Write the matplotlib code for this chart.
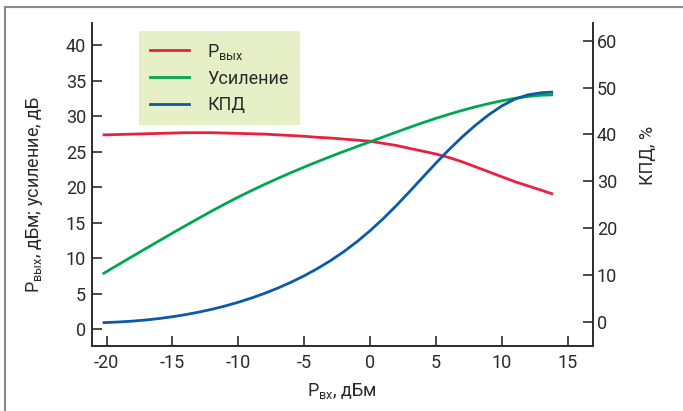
import matplotlib as mpl
mpl.use('Agg')

import matplotlib.pyplot as plt
from matplotlib.lines import Line2D

plt.rcParams['font.family'] = ['Roboto', 'DejaVu Sans']
plt.rcParams['mathtext.fontset'] = 'custom'
plt.rcParams['mathtext.rm'] = 'Roboto'
plt.rcParams['font.size'] = 13

# input power, dBm
p_in = [-20.3, -20, -19, -18, -17, -16, -15, -14, -13, -12, -11, -10, -9, -8, -7, -6,
        -5, -4, -3, -2, -1, 0, 1, 2, 3, 4, 5, 6, 7, 8, 9, 10, 11, 12, 13, 13.9]
# red curve (left axis)
p_out = [27.4, 27.4, 27.45, 27.5, 27.55, 27.6, 27.65, 27.7, 27.7, 27.7, 27.65, 27.6,
         27.55, 27.5, 27.4, 27.3, 27.2, 27.05, 26.95, 26.8, 26.65, 26.5, 26.2, 25.9,
         25.5, 25.1, 24.7, 24.2, 23.6, 22.9, 22.2, 21.5, 20.8, 20.2, 19.6, 19.05]
# green curve (left axis)
gain = [7.8, 8.13, 9.23, 10.32, 11.4, 12.48, 13.55, 14.61, 15.65, 16.68, 17.67, 18.63,
        19.54, 20.42, 21.26, 22.07, 22.85, 23.61, 24.34, 25.05, 25.74, 26.42, 27.1,
        27.78, 28.45, 29.1, 29.72, 30.3, 30.84, 31.34, 31.79, 32.19, 32.54, 32.81,
        32.98, 33.04]
# blue curve (right axis), %
eff = [-0.15, -0.12, 0.01, 0.19, 0.43, 0.74, 1.12, 1.57, 2.1, 2.71, 3.41, 4.21, 5.11,
       6.11, 7.23, 8.47, 9.85, 11.38, 13.08, 14.98, 17.1, 19.45, 22.03, 24.83, 27.8,
       30.85, 33.87, 36.77, 39.47, 41.95, 44.17, 46.07, 47.55, 48.45, 48.9, 49.05]

xticks = [-20, -15, -10, -5, 0, 5, 10, 15]
yticks_left = [0, 5, 10, 15, 20, 25, 30, 35, 40]
yticks_right = [0, 10, 20, 30, 40, 50, 60]

c_red = '#e8213f'
c_green = '#00a651'
c_blue = '#0a5aa8'
c_axis = '#2b2b2b'
c_text = '#2a2a2a'

fig = plt.figure(figsize=(6.83, 4.11), dpi=100)

# outer frame (only top and left edges visible)
fig.add_artist(Line2D([5 / 683, 1.0], [1 - 7 / 411, 1 - 7 / 411], color='#8a8a8a', lw=1.5))
fig.add_artist(Line2D([5 / 683, 5 / 683], [0, 1 - 7 / 411], color='#8a8a8a', lw=1.5))

ax1 = fig.add_axes([0.1343, 0.1582, 0.7335, 0.7866])
ax2 = ax1.twinx()

ax1.plot(p_in, p_out, color=c_red, lw=2.0, solid_capstyle='butt')
ax1.plot(p_in, gain, color=c_green, lw=2.0, solid_capstyle='butt')
ax2.plot(p_in, eff, color=c_blue, lw=2.0, solid_capstyle='butt')

ax1.set_xlim(-21.13, 16.91)
ax1.set_ylim(-2.35, 43.2)
ax2.set_ylim(-5.12, 63.84)

ax1.set_xticks(xticks)
ax1.set_xticklabels([str(t) for t in xticks])
ax1.set_yticks(yticks_left)
ax2.set_yticks(yticks_right)

for ax in (ax1, ax2):
    ax.spines['top'].set_visible(False)
    for s in ('left', 'right', 'bottom'):
        ax.spines[s].set_color(c_axis)
        ax.spines[s].set_linewidth(1.2)
    ax.tick_params(direction='in', length=7, width=1.2, color=c_axis,
                   labelcolor=c_text, labelsize=13)
ax1.tick_params(axis='y', pad=4)
ax1.tick_params(axis='x', pad=6)
ax2.tick_params(axis='y', pad=3)

ax1.set_xlabel(r'P$_{\mathregular{вх}}$, дБм', fontsize=13, color=c_text, labelpad=6)
ax1.set_ylabel(r'P$_{\mathregular{вых}}$, дБм; усиление, дБ', fontsize=13, color=c_text)
ax1.yaxis.set_label_coords(-0.093, 0.47)
ax2.set_ylabel('КПД, %', fontsize=13, color=c_text)
ax2.yaxis.set_label_coords(1.092, 0.59)

# legend
handles = [Line2D([], [], color=c_red, lw=2.0),
           Line2D([], [], color=c_green, lw=2.0),
           Line2D([], [], color=c_blue, lw=2.0)]
labels = [r'P$_{\mathregular{вых}}$', 'Усиление', 'КПД']
leg = ax1.legend(handles, labels, loc='upper left', bbox_to_anchor=(0.094, 0.975),
                 frameon=True, fancybox=False, framealpha=1.0, edgecolor='none',
                 facecolor='#e6efc5', fontsize=13, handlelength=2.2,
                 handletextpad=1.0, labelspacing=0.45, borderpad=0.6,
                 borderaxespad=0.0)
for t in leg.get_texts():
    t.set_color(c_text)
leg.set_zorder(5)

fig.savefig('out.png', dpi=100)
